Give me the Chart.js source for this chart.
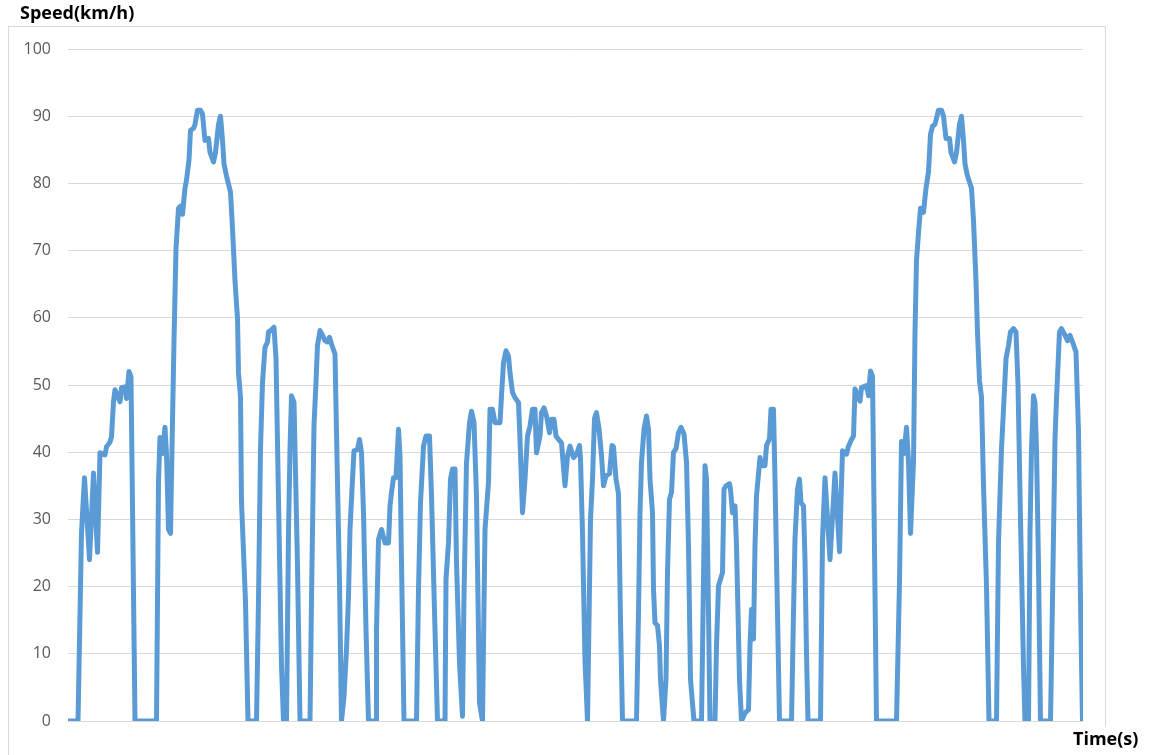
<!DOCTYPE html>
<html lang="en">
<head>
<meta charset="UTF-8">
<script src="https://cdn.jsdelivr.net/npm/chart.js"></script>
<title>Speed</title>
<style>
  html, body { margin: 0; padding: 0; background: #fff; }
  #wrap { position: relative; width: 1151px; height: 755px; }
</style>
</head>
<body>
<div id="wrap"><canvas id="speed" width="1151" height="755"></canvas></div>
<script>
// time (s) and speed (km/h)
var timeSec = [0, 20, 27, 33, 43, 51, 59, 64, 74, 77, 84, 87, 91, 94, 104, 107, 114, 117, 122, 126, 134,
  177, 181, 184, 189, 194, 197, 201, 205, 209, 212, 216, 221, 225, 229, 234, 237, 242, 245, 251, 254, 259,
  265, 269, 274, 281, 284, 291, 295, 301, 305, 309, 312, 317, 321, 325, 329, 334, 339, 341, 345, 347, 355, 360,
  377, 381, 385, 389, 394, 399, 401, 405, 412, 416, 421, 427, 431, 437, 441, 444, 447, 452, 454, 459, 464,
  484, 487, 492, 496, 499, 504, 509, 514, 519, 523, 527, 534, 537, 543, 547, 552, 557, 561, 564, 569, 572,
  579, 583, 587, 591, 596, 601, 616, 617, 621, 627, 634, 641, 644, 647, 651, 656, 661, 664, 667, 672,
  697, 701, 705, 711, 716, 723, 727, 734, 739, 754, 756, 761, 765, 769, 774, 777, 783, 789, 792, 797, 803,
  807, 812, 817, 823, 829, 834, 841, 844, 849, 854, 864, 867, 871, 876, 881, 884, 889, 894, 901, 904, 909,
  914, 919, 924, 929, 934, 937, 944, 947, 952, 957, 963, 967, 972, 976, 981, 987, 994, 999, 1004, 1011,
  1017, 1023, 1025, 1029, 1034, 1039, 1042, 1045, 1049, 1053, 1057, 1062, 1067, 1071, 1076, 1083, 1088,
  1091, 1096, 1101, 1105, 1109, 1137, 1141, 1144, 1147, 1152, 1157, 1161, 1164, 1169, 1171, 1174, 1179,
  1183, 1185, 1191, 1196, 1199, 1203, 1207, 1211, 1216, 1221, 1226, 1232, 1237, 1241, 1245, 1252, 1267,
  1271, 1274, 1277, 1281, 1284, 1294, 1297, 1301, 1305, 1309, 1312, 1316, 1323, 1325, 1329, 1334, 1337,
  1343, 1347, 1354, 1361, 1364, 1367, 1371, 1374, 1377, 1384, 1387, 1394, 1397, 1403, 1406, 1411, 1414,
  1419, 1423, 1447, 1451, 1454, 1459, 1463, 1466, 1471, 1474, 1477, 1480, 1505, 1509, 1514, 1524, 1534,
  1543, 1549, 1557, 1561, 1567, 1571, 1574, 1584, 1587, 1597, 1601, 1605, 1609, 1617, 1657, 1663, 1667,
  1672, 1677, 1681, 1685, 1691, 1694, 1697, 1701, 1705, 1711, 1716, 1721, 1725, 1729, 1734, 1741, 1747,
  1751, 1756, 1763, 1766, 1773, 1777, 1783, 1787, 1791, 1794, 1799, 1803, 1807, 1811, 1816, 1819, 1823,
  1827, 1831, 1837, 1842, 1857, 1861, 1867, 1872, 1876, 1881, 1885, 1891, 1896, 1900, 1905, 1911, 1914,
  1921, 1924, 1927, 1931, 1934, 1937, 1941, 1945, 1965, 1969, 1974, 1977, 1983, 1987, 1994, 1999, 2004,
  2009, 2016, 2021, 2025, 2029, 2030];

var speedKmh = [0, 0, 28, 36.2, 24, 36.9, 25.1, 39.9, 39.6, 40.8, 41.5, 42.3, 47.5, 49.3, 47.5, 49.6, 49.7, 48, 52, 51.2, 0,
  0, 35.7, 42.2, 39.8, 43.7, 39.8, 28.5, 27.9, 44.6, 56.6, 70.3, 76.3, 76.6, 75.4, 79.3, 80.5, 83.5, 87.9, 88.2, 88.8, 90.9,
  90.9, 90.3, 86.4, 86.7, 84.6, 83.2, 84.6, 88.8, 90, 86.4, 82.9, 81.1, 79.9, 78.7, 73.3, 65.5, 59.9, 51.8, 48.2, 32.7, 17.7, 0,
  0, 18.1, 40.5, 50.4, 55.6, 56.4, 57.9, 58.1, 58.6, 53.9, 33, 8.2, 0, 0, 28.1, 40.5, 48.4, 47.4, 40.5, 23.1, 0,
  0, 18.1, 44, 50.4, 55.9, 58.1, 57.4, 56.6, 56.4, 57.1, 56.1, 54.6, 43, 20.6, 0, 3.7, 10.7, 18.6, 28.5, 36, 40.2,
  40.4, 41.9, 39.9, 31, 13.6, 0, 0, 13.6, 27, 28.5, 26.5, 26.5, 32, 34, 36.2, 36.2, 43.4, 39.4, 23.6, 0,
  0, 19.6, 32.5, 40.9, 42.4, 42.4, 33.5, 13.6, 0, 0, 21.1, 26.5, 36, 37.5, 37.5, 23.6, 8.7, 0.7, 18.6, 38.4, 44.4,
  46.1, 44.4, 33.5, 2.7, 0, 28.5, 35.5, 46.4, 46.4, 44.4, 44.4, 48.4, 53.3, 55.1, 54.3, 51.8, 48.9, 48.1, 47.4, 41.9, 31,
  36, 42.4, 43.9, 46.4, 46.4, 39.9, 42.4, 45.9, 46.6, 45.4, 42.9, 44.9, 44.9, 42.4, 41.9, 41.4, 35, 39.4, 40.9, 39.2,
  39.7, 41, 39, 28, 9, 0, 15, 30, 36, 45, 45.9, 43.5, 39.5, 35, 36.5, 36.8, 41,
  40.8, 36, 33.8, 15, 0, 0, 16.1, 31, 38.5, 43.4, 45.4, 43.4, 36, 31, 19.6, 14.6, 14.2,
  11.2, 6.2, 0, 6.2, 22.1, 33, 34, 40, 40.5, 42.9, 43.7, 42.7, 38.5, 26.1, 6.2, 0, 0,
  21.1, 38, 36, 16.1, 0, 0, 11.2, 20.1, 21.1, 22.1, 34.5, 35, 35.3, 34.5, 31, 32, 26.1,
  6.2, 0, 1.2, 1.7, 11.2, 16.6, 12.2, 26.1, 33.5, 39.2, 38, 38, 41, 42, 46.4, 46.4, 36,
  16.1, 0, 0, 16.1, 27.1, 34.5, 36, 32.5, 32, 24, 10, 0, 0, 27, 36.2, 24, 36.9,
  25.2, 40.2, 39.7, 40.9, 41.9, 42.4, 49.4, 47.6, 49.6, 49.9, 48.4, 52.1, 51.3, 0, 0, 20.7, 41.6,
  39.8, 43.7, 38.6, 27.9, 38.6, 57.8, 68.5, 72.7, 76.3, 75.7, 79.3, 81.7, 87.3, 88.5, 88.8, 90.9, 90.9,
  90, 86.7, 86.7, 84.6, 83.2, 84.6, 88.8, 90, 86.4, 82.9, 81.1, 80.2, 79.3, 74.5, 65.5, 57.8, 50.6,
  48.2, 35.1, 20, 0, 0, 26.6, 40.5, 47.9, 53.9, 55.9, 57.9, 58.4, 57.9, 50, 30, 8.2, 0,
  0, 28.1, 40.5, 48.4, 47.4, 40.5, 23.1, 0, 0, 18.1, 42, 47.9, 57.9, 58.4, 57.4, 56.6, 57.4,
  56.4, 54.9, 43, 18.1, 0, 0];

var yTicks = [0, 10, 20, 30, 40, 50, 60, 70, 80, 90, 100];
var yTitle = 'Speed(km/h)';
var xTitle = 'Time(s)';

var points = [];
for (var i = 0; i < timeSec.length; i++) {
  points.push({ x: timeSec[i], y: speedKmh[i] });
}

// frame round the chart and the two axis titles
var frameAndTitles = {
  id: 'frameAndTitles',
  beforeDraw: function (chart) {
    var c = chart.ctx;
    c.save();
    c.fillStyle = '#ffffff';
    c.fillRect(0, 0, chart.width, chart.height);
    c.strokeStyle = '#d9d9d9';
    c.lineWidth = 1;
    c.strokeRect(8.5, 26.5, 1097, 760);
    c.restore();
  },
  afterDraw: function (chart) {
    var c = chart.ctx;
    c.save();
    c.font = 'bold 18px "Open Sans"';
    c.textBaseline = 'alphabetic';
    c.textAlign = 'left';
    c.fillStyle = '#ffffff';
    c.fillRect(1070, 726, 72, 29);
    c.fillStyle = '#000000';
    c.fillText(yTitle, 20, 19);
    c.fillText(xTitle, 1073, 745);
    c.restore();
  }
};

new Chart(document.getElementById('speed').getContext('2d'), {
  type: 'line',
  data: {
    datasets: [{
      label: 'Speed',
      data: points,
      borderColor: '#5b9bd5',
      backgroundColor: '#5b9bd5',
      borderWidth: 5,
      pointRadius: 0,
      tension: 0,
      borderJoinStyle: 'round',
      borderCapStyle: 'round'
    }]
  },
  options: {
    responsive: false,
    animation: false,
    layout: { padding: { left: 8, top: 49, right: 68, bottom: 34 } },
    plugins: { legend: { display: false }, tooltip: { enabled: false } },
    scales: {
      x: {
        type: 'linear',
        min: timeSec[0],
        max: timeSec[timeSec.length - 1],
        display: false
      },
      y: {
        min: yTicks[0],
        max: yTicks[yTicks.length - 1],
        afterFit: function (scale) { scale.width = 60; },
        afterBuildTicks: function (scale) {
          scale.ticks = yTicks.map(function (v) { return { value: v }; });
        },
        border: { display: false },
        grid: { color: '#d9d9d9', lineWidth: 1, drawTicks: false },
        ticks: {
          padding: 17,
          color: '#595959',
          font: { family: '"Open Sans"', size: 16 }
        }
      }
    }
  },
  plugins: [frameAndTitles]
});
</script>
</body>
</html>
